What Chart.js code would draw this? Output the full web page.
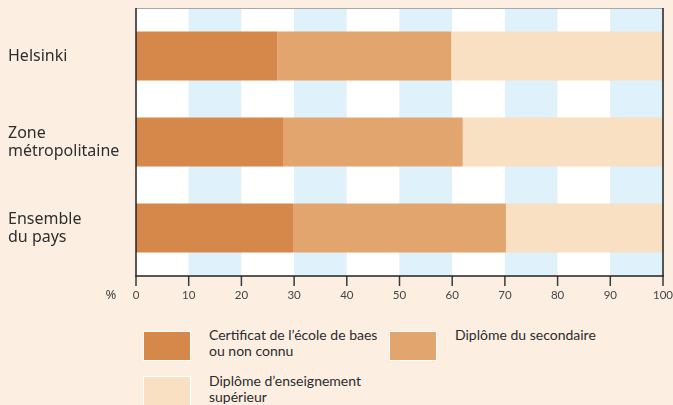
<!DOCTYPE html>
<html>
<head>
<meta charset="utf-8">
<script src="https://cdn.jsdelivr.net/npm/chart.js@4"></script>
<style>
  html, body { margin: 0; padding: 0; background: #fcefe2; }
  #wrap { position: relative; width: 673px; height: 405px; overflow: hidden; font-family: Lato, "Noto Sans", sans-serif; color: #2b2b2b; }
  #chartBox { position: absolute; left: 0; top: 0; width: 673px; height: 310px; }
  .swatch { position: absolute; width: 46px; height: 28px; border: 1px solid #fff; }
  .text { position: absolute; font-size: 14px; line-height: 16px; white-space: pre-line; }
</style>
</head>
<body>
<div id="wrap">
  <div id="chartBox"><canvas id="chart"></canvas></div>
  <div id="legend"></div>
</div>
<script>
const categories = [["Helsinki"], ["Zone", "métropolitaine"], ["Ensemble", "du pays"]];
const seriesLabels = [
  "Certificat de l’école de baes\nou non connu",
  "Diplôme du secondaire",
  "Diplôme d’enseignement\nsupérieur",
];
const seriesColors = ["#d6874a", "#e2a56e", "#f9e0c2"];
const basicValues = [26.8, 27.9, 29.8];
const secondaryValues = [33.0, 34.1, 40.4];
const higherValues = [40.2, 38.0, 29.8];
const xTicks = [0, 10, 20, 30, 40, 50, 60, 70, 80, 90, 100];

const seriesValues = [basicValues, secondaryValues, higherValues];

// frame sticks out a little beyond the category area, like the original
const EXT = 5;

const framePlugin = {
  id: "frame",
  beforeDatasetsDraw(chart) {
    const { ctx, chartArea, scales } = chart;
    const x = scales.x;
    const top = chartArea.top - EXT;
    const h = chartArea.bottom - chartArea.top + EXT * 2;
    ctx.save();
    for (let i = 0; i < xTicks.length - 1; i++) {
      const x0 = x.getPixelForValue(xTicks[i]);
      const x1 = x.getPixelForValue(xTicks[i + 1]);
      ctx.fillStyle = i % 2 === 0 ? "#ffffff" : "#dff1fa";
      ctx.fillRect(x0, top, x1 - x0, h);
    }
    ctx.restore();
  },
  afterDraw(chart) {
    const { ctx, chartArea, scales } = chart;
    const x = scales.x;
    const top = chartArea.top - EXT;
    const bottom = chartArea.bottom + EXT;
    ctx.save();
    ctx.fillStyle = "#a8a8a8";
    ctx.fillRect(chartArea.left, top, chartArea.right - chartArea.left, 1);

    ctx.fillStyle = "#3a3a3a";
    xTicks.forEach((v) => {
      const px = x.getPixelForValue(v);
      ctx.fillRect(px - 0.75, bottom, 1.5, 10);
    });

    ctx.fillStyle = "#222";
    ctx.fillRect(chartArea.left - 0.75, top, 1.5, bottom - top);
    ctx.fillRect(chartArea.right - 0.75, top, 1.5, bottom - top);
    ctx.fillRect(chartArea.left - 0.75, bottom - 0.75, chartArea.right - chartArea.left + 1.5, 1.5);

    ctx.fillStyle = "#444";
    ctx.font = "13px 'Noto Sans', sans-serif";
    ctx.textAlign = "center";
    ctx.textBaseline = "middle";
    ctx.fillText("%", 111, bottom + 19);
    ctx.restore();
  },
};

new Chart(document.getElementById("chart"), {
  type: "bar",
  data: {
    labels: categories,
    datasets: seriesValues.map((values, i) => ({
      label: seriesLabels[i],
      data: values,
      backgroundColor: seriesColors[i],
      borderWidth: 0,
      barPercentage: 0.57,
      categoryPercentage: 1,
    })),
  },
  options: {
    indexAxis: "y",
    responsive: true,
    maintainAspectRatio: false,
    animation: false,
    layout: { padding: { left: 8, top: 8 + EXT, right: 10, bottom: 0 } },
    plugins: {
      legend: { display: false },
      tooltip: { enabled: false },
    },
    scales: {
      x: {
        stacked: true,
        min: 0,
        max: 100,
        afterBuildTicks(scale) {
          scale.ticks = xTicks.map((v) => ({ value: v }));
        },
        afterFit(scale) {
          scale.height = 34 + EXT;
          scale.paddingLeft = 0;
          scale.paddingRight = 0;
        },
        grid: { display: false, drawTicks: false },
        border: { display: false },
        ticks: {
          color: "#444",
          padding: 17,
          maxRotation: 0,
          font: { family: "Lato, 'Noto Sans', sans-serif", size: 11.5 },
        },
      },
      y: {
        stacked: true,
        afterFit(scale) {
          scale.width = 128;
          scale.paddingTop = 0;
          scale.paddingBottom = 0;
        },
        grid: { display: false },
        border: { display: false },
        ticks: {
          crossAlign: "far",
          color: "#2e2e2e",
          font: { family: "'Noto Sans', sans-serif", size: 16, lineHeight: "18px" },
        },
      },
    },
  },
  plugins: [framePlugin],
});

const legendPos = [
  { box: [143, 331], text: [209, 327] },
  { box: [389, 331], text: [455, 327] },
  { box: [143, 376], text: [209, 373] },
];
const legend = document.getElementById("legend");
seriesLabels.forEach((label, i) => {
  const p = legendPos[i];
  const sw = document.createElement("div");
  sw.className = "swatch";
  sw.style.left = p.box[0] + "px";
  sw.style.top = p.box[1] + "px";
  sw.style.background = seriesColors[i];
  const tx = document.createElement("div");
  tx.className = "text";
  tx.style.left = p.text[0] + "px";
  tx.style.top = p.text[1] + "px";
  tx.textContent = label;
  legend.appendChild(sw);
  legend.appendChild(tx);
});
</script>
</body>
</html>
